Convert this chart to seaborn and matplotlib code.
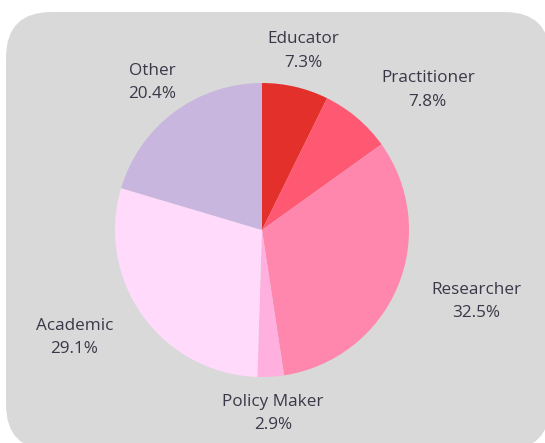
import numpy as np
import matplotlib
matplotlib.use("Agg")
import matplotlib.pyplot as plt
from matplotlib.patches import FancyBboxPatch
import seaborn as sns

# Data
roles = ["Educator", "Practitioner", "Researcher", "Policy Maker", "Academic", "Other"]
shares = [7.3, 7.8, 32.5, 2.9, 29.1, 20.4]
colors = ["#E3302A", "#FF5873", "#FF86AD", "#FFB0DE", "#FFDAFB", "#C8B6DE"]

sns.set_theme(style="white")
plt.rcParams["font.family"] = ["Open Sans", "DejaVu Sans"]

W, H, dpi = 545, 443, 100
fig = plt.figure(figsize=(W / dpi, H / dpi), dpi=dpi)
fig.patch.set_facecolor("white")
ax = fig.add_axes([0, 0, 1, 1])

# pie geometry in pixels (centre and radius)
cx, cy, r = 262, 230, 147

# rounded grey panel behind the pie
ax.add_patch(FancyBboxPatch(((6 - cx) / r, (cy - 450) / r), (550 - 6) / r, (450 - 12) / r,
                            boxstyle="round,pad=0,rounding_size=0.31",
                            facecolor="#D9D9D9", edgecolor="none", zorder=0))

wedges, _ = ax.pie(shares, colors=colors, startangle=90, counterclock=False,
                   radius=1, wedgeprops=dict(linewidth=0))
for w in wedges:
    w.set_zorder(2)

# labels outside the pie
total = sum(shares)
start = 90.0
for name, val in zip(roles, shares):
    mid = np.deg2rad(start - val / total * 180)
    start -= val / total * 360
    x, y = 1.25 * np.cos(mid), 1.25 * np.sin(mid)
    c = np.cos(mid)
    ha = "center" if abs(c) < 0.6 else ("left" if c > 0 else "right")
    ax.text(x, y, f"{name}\n{val}%", ha=ha, va="center", multialignment="center",
            fontsize=12.3, color="#383848", linespacing=1.6, zorder=3)

ax.set_xlim(-cx / r, (W - cx) / r)
ax.set_ylim(-(H - cy) / r, cy / r)
ax.set_aspect("auto")
ax.axis("off")

plt.savefig("out.png", dpi=dpi)
